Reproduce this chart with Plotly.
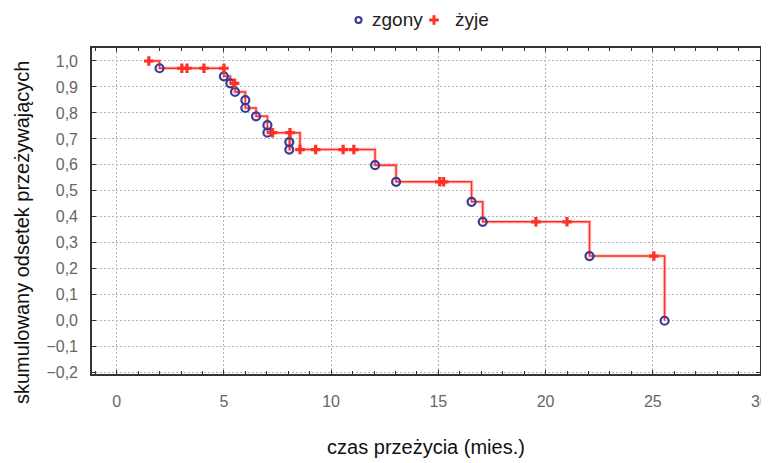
import plotly.graph_objects as go

# Kaplan-Meier data
death_times = [2.0, 5.0, 5.3, 5.52, 6.0, 6.0, 6.5, 7.03, 7.03, 8.05, 8.05, 12.05, 13.03, 16.55, 17.07, 22.05, 25.55]
death_surv = [0.972, 0.941, 0.914, 0.881, 0.849, 0.819, 0.787, 0.753, 0.724, 0.688, 0.659, 0.599, 0.535, 0.458, 0.381, 0.249, 0.0]
cens_times = [1.5, 3.04, 3.28, 4.07, 5.0, 5.5, 7.27, 8.08, 8.55, 9.28, 10.56, 11.06, 15.07, 15.25, 19.55, 21.0, 25.05]
cens_surv = [1.0, 0.972, 0.972, 0.972, 0.972, 0.914, 0.724, 0.724, 0.659, 0.659, 0.659, 0.659, 0.535, 0.535, 0.381, 0.381, 0.249]

x_ticks = [0, 5, 10, 15, 20, 25, 30]
y_ticks = [-0.2, -0.1, 0.0, 0.1, 0.2, 0.3, 0.4, 0.5, 0.6, 0.7, 0.8, 0.9, 1.0]
legend_labels = ["zgony", "żyje"]

# step line through all events
events = sorted(list(zip(death_times, death_surv)) + list(zip(cens_times, cens_surv)),
                key=lambda p: (p[0], -p[1]))
line_x = [p[0] for p in events]
line_y = [p[1] for p in events]

RED = "#ff3025"
BLUE = "#3a3a98"
FONT = "Liberation Sans, Arial, sans-serif"

fig = go.Figure()
# soft halo under the step line, then the line itself
fig.add_trace(go.Scatter(x=line_x, y=line_y, mode="lines",
                         line=dict(color="rgba(255,60,50,0.28)", width=3.6, shape="hv"),
                         showlegend=False, hoverinfo="skip"))
fig.add_trace(go.Scatter(x=line_x, y=line_y, mode="lines", line=dict(color=RED, width=1.5, shape="hv"),
                         showlegend=False, hoverinfo="skip"))
fig.add_trace(go.Scatter(x=death_times, y=death_surv, mode="markers", name=legend_labels[0],
                         showlegend=False,
                         marker=dict(symbol="circle-open", size=8, color=BLUE, line=dict(width=2.2, color=BLUE))))
fig.add_trace(go.Scatter(x=cens_times, y=cens_surv, mode="markers", name=legend_labels[1],
                         showlegend=False,
                         marker=dict(symbol="cross", size=8, color=RED, line=dict(width=0))))

axis_common = dict(showline=True, mirror="allticks", linecolor="#333", linewidth=1.6,
                   showgrid=True, gridcolor="#b4b4b4", griddash="2px,2px", gridwidth=1,
                   zeroline=False, ticks="inside", ticklen=4, tickcolor="#333",
                   tickfont=dict(size=16, color="#666"), automargin=False,
                   ticklabeloverflow="allow")

fig.update_layout(
    width=769, height=463,
    margin=dict(l=84, r=17, t=40, b=97),
    paper_bgcolor="white", plot_bgcolor="white",
    font=dict(family=FONT, color="#222"),
    separators=", ",
    showlegend=False,
    xaxis=dict(range=[-1.15, 30.0], tickvals=x_ticks, ticktext=[str(v) for v in x_ticks],
               minor=dict(ticks="inside", dtick=1, tick0=0, ticklen=3, tickcolor="#333", showgrid=False),
               ticklabelstandoff=12,
               title=dict(text="czas przeżycia (mies.)", font=dict(size=20, color="#111"), standoff=31),
               **axis_common),
    yaxis=dict(range=[-0.205, 1.05], tickvals=y_ticks, tickformat=".1f",
               ticklabelstandoff=9,
               **axis_common),
)

# y-axis title (centred a little below the plot centre, as in the reference)
fig.add_annotation(text="skumulowany odsetek przeżywających", xref="paper", yref="paper",
                   x=-70 / 668, y=(366 - 224) / 326, xanchor="center", yanchor="middle",
                   textangle=-90, showarrow=False, font=dict(size=20, color="#111", family=FONT))

# legend drawn in paper coordinates above the plot
leg_y = 1.0859
fig.add_shape(type="circle", xref="paper", yref="paper", xsizemode="pixel", ysizemode="pixel",
              xanchor=0.3990, yanchor=leg_y, x0=-3, x1=3, y0=-3, y1=3,
              line=dict(color=BLUE, width=2.2), fillcolor="rgba(0,0,0,0)")
fig.add_shape(type="rect", xref="paper", yref="paper", xsizemode="pixel", ysizemode="pixel",
              xanchor=0.5120, yanchor=leg_y, x0=-4.8, x1=4.8, y0=-1.5, y1=1.5,
              line=dict(width=0), fillcolor=RED)
fig.add_shape(type="rect", xref="paper", yref="paper", xsizemode="pixel", ysizemode="pixel",
              xanchor=0.5120, yanchor=leg_y, x0=-1.5, x1=1.5, y0=-4.8, y1=4.8,
              line=dict(width=0), fillcolor=RED)
fig.add_annotation(text=legend_labels[0], xref="paper", yref="paper", x=0.4162, y=leg_y,
                   xanchor="left", yanchor="middle", showarrow=False,
                   font=dict(size=19, color="#222", family=FONT))
fig.add_annotation(text=legend_labels[1], xref="paper", yref="paper", x=0.5404, y=leg_y,
                   xanchor="left", yanchor="middle", showarrow=False,
                   font=dict(size=19, color="#222", family=FONT))

fig.write_html("out.html")
